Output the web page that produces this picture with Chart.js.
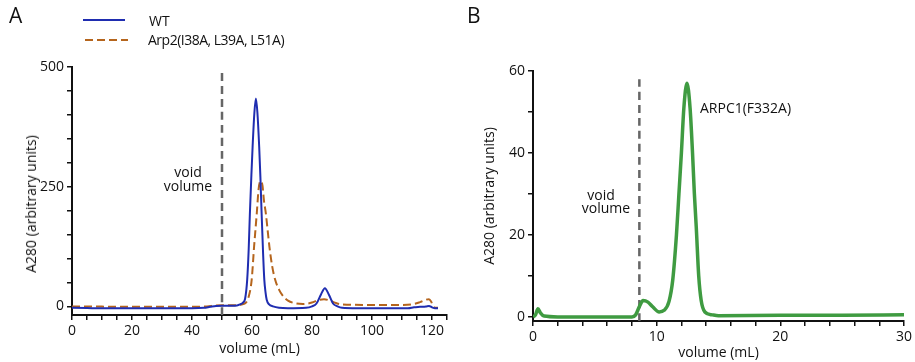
<!DOCTYPE html>
<html>
<head>
<meta charset="utf-8">
<script src="https://cdn.jsdelivr.net/npm/chart.js@4.4.1/dist/chart.umd.min.js"></script>
<style>
  body { margin: 0; background: #fff; font-family: 'Open Sans', sans-serif; color: #111; }
  #wrap { position: relative; width: 915px; height: 362px; overflow: hidden; }
  canvas { position: absolute; top: 0; }
  .lbl { position: absolute; font-size: 14px; line-height: 16px; white-space: nowrap; }
  .panel { position: absolute; font-size: 21px; line-height: 22px; }
  .ytitle { position: absolute; font-size: 14px; line-height: 16px; white-space: nowrap;
            transform: translate(-50%, -50%) rotate(-90deg); }
</style>
</head>
<body>
<div id="wrap">
  <canvas id="chartA" width="460" height="362" style="left:0"></canvas>
  <canvas id="chartB" width="455" height="362" style="left:460px"></canvas>

  <div class="panel" style="left:9px; top:4px">A</div>
  <div class="panel" style="left:467px; top:4px">B</div>

  <!-- legend panel A -->
  <div style="position:absolute; left:83px; top:19px; width:42px; border-top:2px solid #1f2db0"></div>
  <svg style="position:absolute; left:84px; top:38px" width="46" height="4">
    <line x1="1" y1="2" x2="44" y2="2" stroke="#b5651d" stroke-width="2" stroke-dasharray="8,4"/>
  </svg>
  <div class="lbl" style="left:149px; top:13px">WT</div>
  <div class="lbl" style="left:148px; top:32px; letter-spacing:-0.5px">Arp2(I38A, L39A, L51A)</div>

  <!-- y title of panel A sits a little below the axis centre -->
  <div class="ytitle" style="left:31px; top:204px">A280 (arbitrary units)</div>

  <!-- annotations -->
  <div class="lbl" style="left:158px; top:165px; width:60px; text-align:center; line-height:14px">void<br>volume</div>
  <div class="lbl" style="left:571px; top:187px; width:60px; text-align:center">void</div>
  <div class="lbl" style="left:576px; top:200px; width:60px; text-align:center">volume</div>
  <div class="lbl" style="left:700px; top:100px">ARPC1(F332A)</div>
</div>

<script>
// Panel A: WT vs Arp2 mutant (elution volume in mL, A280)
const wtVol  = [0, 5, 10, 20, 30, 40, 44, 46, 48, 50, 53, 55, 56, 57.0, 57.7, 58.4, 58.9, 59.3, 59.8, 60.2, 60.8, 61.3, 61.8, 62.4, 62.8, 63.2, 63.7, 64.1, 64.5, 64.9, 65.7, 67, 69, 72, 78, 80, 81.5, 83, 84.3, 85.6, 87, 88.5, 90, 95, 100, 105, 112, 114, 116, 118, 119, 120, 121, 122];
const wtA280 = [-3, -3.5, -4, -4, -4, -4, -3, -1, 1, 1.5, 1.5, 2, 4, 8, 16, 56, 120, 195, 275, 333, 405, 434, 405, 333, 270, 195, 110, 56, 30, 14, 4, 0, -3, -4, -3, 0, 6, 25, 38, 25, 6, 0, -3, -4, -4, -4, -4, -2, -1, 0, 1, -2, -4, -4];

const arpVol  = [0, 10, 20, 30, 40, 45, 48, 50, 55, 56.5, 58.0, 58.8, 59.9, 60.7, 61.6, 62.2, 62.9, 63.5, 64.0, 64.6, 65.2, 65.8, 66.7, 67.7, 69.0, 70.4, 72, 74, 77, 80, 82, 84, 86, 88, 90, 100, 110, 114, 116, 118, 119, 119.7, 120.4, 121.5, 122];
const arpA280 = [0, -0.5, -1, -1, -1, 0, 2, 2.5, 2.5, 4, 8, 18, 56, 125, 195, 245, 262, 252, 220, 195, 160, 125, 85, 56, 35, 21, 12, 7, 5, 8, 13, 15, 12, 7, 4, 3, 3, 5, 9, 14, 15, 10, 0, -3, -3];

// Panel B: ARPC1(F332A)
const arpcVol  = [0, 0.2, 0.4, 0.6, 0.9, 2, 5, 8, 8.3, 8.6, 8.9, 9.3, 9.7, 10.2, 10.6, 11.0, 11.3, 11.6, 11.8, 12.0, 12.2, 12.45, 12.7, 12.9, 13.05, 13.2, 13.4, 13.6, 13.9, 14.5, 15, 20, 25, 30];
const arpcA280 = [0, 0.5, 2, 1, 0.2, 0, 0, 0, 0.5, 2.5, 4, 3.6, 2.4, 1.2, 1.6, 3.8, 9, 20, 30, 40, 51, 57, 51, 40, 30, 22, 10, 4, 1.2, 0.5, 0.3, 0.4, 0.4, 0.5];

// void volume markers
const voidA = 50;
const voidATop = 495;
const voidB = 8.6;
const voidBTop = 58;

// labelled ticks
const xLabelsA = [0, 20, 40, 60, 80, 100, 120];
const yLabelsA = [0, 250, 500];
const xLabelsB = [0, 10, 20, 30];
const yLabelsB = [0, 20, 40, 60];

const FONT = { family: "'Open Sans', sans-serif", size: 14 };
const INK = '#111';

function pts(xs, ys) {
    return xs.map((x, i) => ({ x: x, y: ys[i] }));
}

function axis(min, max, step, labels, title, fit) {
    return {
        type: 'linear',
        min: min,
        max: max,
        border: { display: true, color: INK, width: 2 },
        grid: { drawOnChartArea: false, drawTicks: true, tickLength: 5, color: INK, lineWidth: 1.5 },
        ticks: {
            stepSize: step,
            autoSkip: false,
            includeBounds: false,
            maxRotation: 0,
            padding: 3,
            color: INK,
            font: FONT,
            callback: v => labels.includes(v) ? String(v) : ''
        },
        title: { display: title !== '', text: title, color: INK, font: FONT, padding: fit.titlePad },
        afterFit: s => {
            if (fit.width !== undefined) s.width = fit.width;
            if (fit.height !== undefined) s.height = fit.height;
        }
    };
}

function curve(data, color, width, dash, order) {
    return {
        data: data,
        borderColor: color,
        borderWidth: width,
        borderDash: dash,
        pointRadius: 0,
        fill: false,
        cubicInterpolationMode: 'monotone',
        order: order
    };
}

const common = {
    responsive: false,
    animation: false,
    events: [],
    plugins: { legend: { display: false }, tooltip: { enabled: false } }
};

new Chart(document.getElementById('chartA'), {
    type: 'line',
    data: {
        datasets: [
            curve(pts(wtVol, wtA280), '#1f2db0', 2, [], 1),
            curve(pts(arpVol, arpA280), '#b5651d', 2, [8, 4], 2),
            curve([{ x: voidA, y: -18 }, { x: voidA, y: voidATop }], '#666', 2.5, [8, 5], 3)
        ]
    },
    options: Object.assign({}, common, {
        layout: { padding: { top: 67, right: 13, bottom: 0, left: 0 } },
        scales: {
            x: axis(0, 125, 5, xLabelsA, 'volume (mL)', { height: 47, titlePad: { bottom: 5 } }),
            y: axis(-18, 500, 50, yLabelsA, '', { width: 72, titlePad: { top: 22 } })
        }
    })
});

new Chart(document.getElementById('chartB'), {
    type: 'line',
    data: {
        datasets: [
            curve(pts(arpcVol, arpcA280), '#3f9b41', 3.5, [], 1),
            curve([{ x: voidB, y: -1 }, { x: voidB, y: voidBTop }], '#666', 2.5, [8, 5], 2)
        ]
    },
    options: Object.assign({}, common, {
        layout: { padding: { top: 71, right: 9, bottom: 0, left: 0 } },
        scales: {
            x: axis(0, 30, 2, xLabelsB, 'volume (mL)', { height: 41, titlePad: { bottom: 1 } }),
            y: axis(-1, 60, 10, yLabelsB, 'A280 (arbitrary units)', { width: 73, titlePad: { top: 22 } })
        }
    })
});
</script>
</body>
</html>
